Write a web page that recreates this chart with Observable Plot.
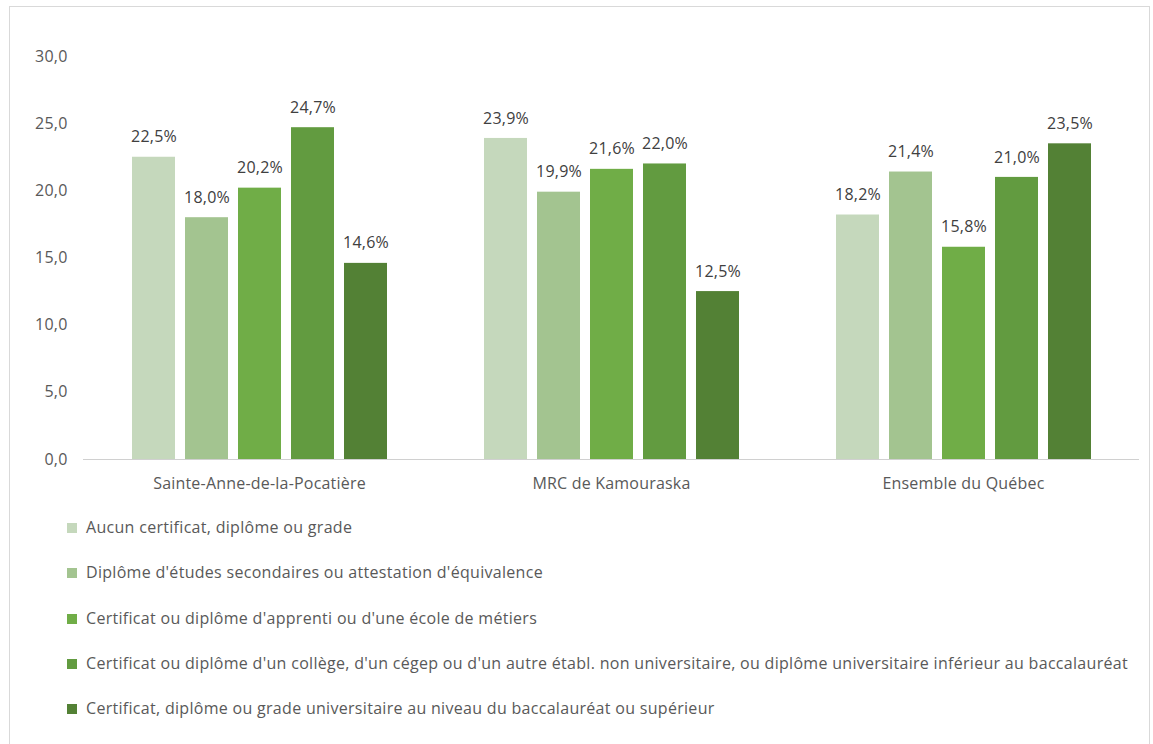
<!DOCTYPE html>
<html>
<head>
<meta charset="utf-8">
<script src="https://cdn.jsdelivr.net/npm/d3@7"></script>
<script src="https://cdn.jsdelivr.net/npm/@observablehq/plot@0.6"></script>
<style>
  html, body { margin: 0; padding: 0; background: #fff; }
  #frame { position: absolute; left: 9px; top: 6px; width: 1141px; height: 740px; border: 1px solid #d9d9d9; box-sizing: border-box; }
  #chart { position: absolute; left: 0; top: 0; }
  #legend { position: absolute; left: 67px; top: 516px; font-family: "Open Sans", sans-serif; font-size: 16px; letter-spacing: 0.3px; color: #595959; }
  .item { height: 45.3px; display: flex; align-items: flex-start; }
  .sw { width: 10px; height: 10px; margin-right: 9px; margin-top: 7px; flex: none; }
</style>
</head>
<body>
<div id="frame"></div>
<div id="chart"></div>
<div id="legend"></div>
<script>
const groups = ["Sainte-Anne-de-la-Pocatière", "MRC de Kamouraska", "Ensemble du Québec"];
const series = [
  "Aucun certificat, diplôme ou grade",
  "Diplôme d'études secondaires ou attestation d'équivalence",
  "Certificat ou diplôme d'apprenti ou d'une école de métiers",
  "Certificat ou diplôme d'un collège, d'un cégep ou d'un autre établ. non universitaire, ou diplôme universitaire inférieur au baccalauréat",
  "Certificat, diplôme ou grade universitaire au niveau du baccalauréat ou supérieur"
];
const colors = ["#c5d8bc", "#a3c490", "#70ad47", "#629b40", "#538135"];
const valuesSainteAnne = [22.5, 18.0, 20.2, 24.7, 14.6];
const valuesKamouraska = [23.9, 19.9, 21.6, 22.0, 12.5];
const valuesQuebec = [18.2, 21.4, 15.8, 21.0, 23.5];
const yTicks = [0, 5, 10, 15, 20, 25, 30];

const allValues = [valuesSainteAnne, valuesKamouraska, valuesQuebec];
const data = [];
groups.forEach((g, gi) => series.forEach((s, si) => data.push({group: g, serie: s, value: allValues[gi][si]})));

const fmt = v => v.toFixed(1).replace(".", ",");
const font = "Open Sans, sans-serif";

const chart = Plot.plot({
  width: 1153,
  height: 500,
  marginLeft: 82,
  marginRight: 13,
  marginTop: 56,
  marginBottom: 41,
  style: {fontFamily: font, fontSize: "16px", letterSpacing: "0.2px", color: "#595959", background: "transparent"},
  fx: {domain: groups, padding: 0, label: null, axis: "bottom", tickSize: 0, tickPadding: 18},
  x: {domain: series, paddingInner: 0.19, paddingOuter: 0.87, axis: null},
  y: {domain: [0, 30], ticks: yTicks, tickFormat: fmt, label: null, tickSize: 0, tickPadding: 16},
  color: {domain: series, range: colors},
  marks: [
    Plot.gridY(yTicks.filter(t => t > 0), {stroke: "#d9d9d9", strokeOpacity: 1, strokeWidth: 1, facetAnchor: null, x1: 82, x2: 1140}),
    Plot.barY(data, {fx: "group", x: "serie", y: "value", fill: "serie"}),
    Plot.text(data, {fx: "group", x: "serie", y: "value", text: d => fmt(d.value) + "%", dy: -20, fill: "#404040", fontSize: 16}),
    Plot.ruleY([0], {stroke: "#d0d0d0", strokeWidth: 1})
  ]
});
document.getElementById("chart").appendChild(chart);

const legend = document.getElementById("legend");
series.forEach((s, i) => {
  const item = document.createElement("div");
  item.className = "item";
  const sw = document.createElement("div");
  sw.className = "sw";
  sw.style.background = colors[i];
  const t = document.createElement("span");
  t.textContent = s;
  item.appendChild(sw);
  item.appendChild(t);
  legend.appendChild(item);
});
</script>
</body>
</html>
